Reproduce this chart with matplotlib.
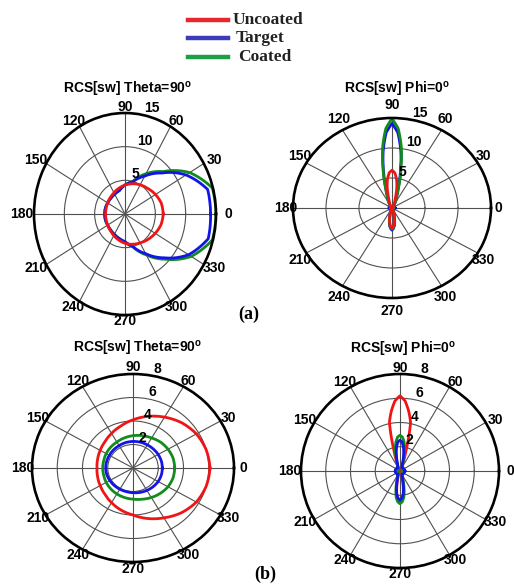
import numpy as np
import matplotlib.pyplot as plt
from matplotlib.lines import Line2D

plt.rcParams['font.family'] = ['Liberation Sans', 'DejaVu Sans']
plt.rcParams['mathtext.fontset'] = 'custom'
plt.rcParams['mathtext.rm'] = 'Liberation Sans'
plt.rcParams['mathtext.bf'] = 'Liberation Sans:bold'

# angles (deg) for the theta=90 cuts
cut_deg = [0, 15, 30, 45, 60, 75, 90, 105, 120, 135, 150, 165, 180,
           195, 210, 225, 240, 255, 270, 285, 300, 315, 330, 345, 360]
# angles (deg) for the phi=0 cuts (denser near the lobes)
lobe_deg = [0, 45, 60, 70, 74, 78, 82, 86, 90, 94, 98, 102, 106, 110, 120, 135, 180,
            225, 240, 250, 254, 258, 262, 266, 270, 274, 278, 282, 286, 290, 300, 315, 360]

# (a) Theta = 90
a_th_red = [6.3, 6.2, 5.8, 5.35, 5.0, 4.65, 4.3, 3.95, 3.65, 3.45, 3.3, 3.22, 3.2,
            3.22, 3.3, 3.45, 3.7, 4.0, 4.35, 4.65, 4.95, 5.35, 5.75, 6.15, 6.3]
a_th_blue = [14.1, 14.1, 11.6, 8.6, 6.5, 4.95, 4.3, 3.6, 3.4, 3.3, 3.3, 3.35, 3.35,
             3.35, 3.3, 3.35, 3.5, 3.75, 4.1, 5.0, 6.8, 9.2, 12.1, 14.2, 14.1]
a_th_green = [15.0, 14.9, 12.3, 8.9, 6.9, 5.0, 4.3, 3.6, 3.4, 3.3, 3.3, 3.35, 3.35,
              3.35, 3.3, 3.35, 3.5, 3.75, 4.1, 5.05, 7.0, 9.5, 12.6, 14.9, 15.0]

# (a) Phi = 0
a_ph_red = [0.1, 0.2, 0.5, 1.2, 2.0, 3.5, 4.9, 5.9, 6.3, 5.9, 4.9, 3.5, 2.0, 1.2, 0.5, 0.2, 0.1,
            0.15, 0.3, 0.6, 1.0, 1.7, 2.5, 3.1, 3.3, 3.1, 2.5, 1.7, 1.0, 0.6, 0.3, 0.15, 0.1]
a_ph_blue = [0.5, 0.3, 0.7, 2.0, 3.4, 6.1, 9.6, 12.6, 14.1, 12.6, 9.6, 6.1, 3.4, 2.0, 0.7, 0.3, 0.5,
             0.3, 0.4, 0.7, 1.1, 1.9, 2.8, 3.4, 3.7, 3.4, 2.8, 1.9, 1.1, 0.7, 0.4, 0.3, 0.5]
a_ph_green = [0.2, 0.3, 0.7, 2.1, 3.6, 6.5, 10.2, 13.3, 14.9, 13.3, 10.2, 6.5, 3.6, 2.1, 0.7, 0.3, 0.2,
              0.3, 0.35, 0.65, 1.0, 1.8, 2.6, 3.3, 3.5, 3.3, 2.6, 1.8, 1.0, 0.65, 0.35, 0.3, 0.2]

# (b) Theta = 90
b_th_red = [6.1, 6.0, 5.8, 5.45, 5.0, 4.55, 4.1, 3.7, 3.4, 3.15, 3.0, 2.9, 2.85,
            2.9, 3.0, 3.15, 3.4, 3.7, 4.0, 4.45, 4.9, 5.4, 5.8, 6.0, 6.1]
b_th_blue = [2.32, 2.32, 2.3, 2.28, 2.27, 2.27, 2.26, 2.24, 2.2, 2.18, 2.16, 2.16, 2.16,
             2.15, 2.12, 2.1, 2.08, 2.08, 2.1, 2.15, 2.2, 2.25, 2.3, 2.32, 2.32]
b_th_green = [3.3, 3.28, 3.2, 3.1, 2.95, 2.85, 2.75, 2.65, 2.55, 2.5, 2.45, 2.4, 2.4,
              2.4, 2.45, 2.5, 2.55, 2.6, 2.65, 2.75, 2.9, 3.05, 3.2, 3.28, 3.3]

# (b) Phi = 0
b_ph_red = [0.1, 0.1, 0.2, 0.6, 1.8, 4.1, 5.0, 5.8, 6.2, 5.8, 5.0, 4.1, 1.8, 0.6, 0.2, 0.1, 0.1,
            0.1, 0.2, 0.4, 0.7, 1.2, 1.9, 2.4, 2.6, 2.4, 1.9, 1.2, 0.7, 0.4, 0.2, 0.1, 0.1]
b_ph_blue = [0.4, 0.35, 0.3, 0.5, 0.9, 1.4, 2.0, 2.4, 2.55, 2.4, 2.0, 1.4, 0.9, 0.5, 0.3, 0.35, 0.4,
             0.35, 0.3, 0.5, 0.85, 1.35, 1.9, 2.25, 2.4, 2.25, 1.9, 1.35, 0.85, 0.5, 0.3, 0.35, 0.4]
b_ph_green = [0.2, 0.2, 0.3, 0.6, 1.1, 1.8, 2.4, 2.8, 2.95, 2.8, 2.4, 1.8, 1.1, 0.6, 0.3, 0.2, 0.2,
              0.2, 0.3, 0.6, 1.0, 1.6, 2.2, 2.55, 2.7, 2.55, 2.2, 1.6, 1.0, 0.6, 0.3, 0.2, 0.2]

angle_labels = ['0', '30', '60', '90', '120', '150', '180', '210', '240', '270', '300', '330']
legend_names = ['Uncoated', 'Target', 'Coated']
legend_colors = ['#e8262e', '#3c3cb4', '#1e9e48']
line_colors = {'red': '#f01414', 'blue': '#1414e6', 'green': '#128c1c'}

W, H = 514, 584
fig = plt.figure(figsize=(W / 100, H / 100), dpi=100)


def panel(cx, cy, rx, ry, ex, ey, rmax, rticks, deg, curves):
    ax = fig.add_axes([(cx - rx) / W, (H - cy - ry) / H, 2 * rx / W, 2 * ry / H],
                      projection='polar')
    ax.set_aspect('auto')
    ax.set_ylim(0, rmax)
    ax.set_xticks(np.deg2rad(np.arange(0, 360, 30)))
    ax.set_xticklabels([])
    ax.set_yticks(rticks)
    ax.set_yticklabels([])
    ax.grid(True, color='#505050', lw=0.8)
    ax.spines['polar'].set_linewidth(1.9)
    ax.spines['polar'].set_color('black')
    t = np.deg2rad(deg)
    for color, vals in curves:
        ln, = ax.plot(t, vals, color=line_colors[color], lw=2.0)
        ln.get_path()._interpolation_steps = 30
    # angle labels just outside the rim
    for i, lab in enumerate(angle_labels):
        a = np.deg2rad(30 * i)
        x = cx + (rx + ex) * np.cos(a)
        y = cy - (ry + ey) * np.sin(a)
        fig.text(x / W, 1 - y / H, lab, ha='center', va='center',
                 fontsize=10, fontweight='bold')
    for rt in list(rticks) + [rmax]:
        ax.text(np.deg2rad(78), rt, str(rt), ha='left', va='bottom',
                fontsize=10, fontweight='bold')
    return ax


panel(125, 214, 91, 101, 12, 6, 15, [5, 10], cut_deg,
      [('green', a_th_green), ('blue', a_th_blue), ('red', a_th_red)])
panel(392, 208, 99, 90, 7, 13, 15, [5, 10], lobe_deg,
      [('blue', a_ph_blue), ('green', a_ph_green), ('red', a_ph_red)])
panel(133, 468, 101, 94, 9, 7, 8, [2, 4, 6], cut_deg,
      [('red', b_th_red), ('green', b_th_green), ('blue', b_th_blue)])
panel(400, 471, 99, 97, 11, 6, 8, [2, 4, 6], lobe_deg,
      [('red', b_ph_red), ('green', b_ph_green), ('blue', b_ph_blue)])

# titles, positioned by their baseline
titles = [(128, 94, r'RCS[sw] Theta=90$^{\mathbf{o}}$'),
          (397, 94, r'RCS[sw] Phi=0$^{\mathbf{o}}$'),
          (138, 353, r'RCS[sw] Theta=90$^{\mathbf{o}}$'),
          (403, 354, r'RCS[sw] Phi=0$^{\mathbf{o}}$')]
for x, y, s in titles:
    fig.text(x / W, 1 - y / H, s, ha='center', va='baseline', fontsize=10, fontweight='bold')

# legend at the top
rows_y = [20, 38, 57]
text_x = [233, 236, 238]
for name, col, y, tx in zip(legend_names, legend_colors, rows_y, text_x):
    fig.add_artist(Line2D([188 / W, 228 / W], [1 - y / H, 1 - y / H], color=col, lw=3.2))
    fig.text(tx / W, 1 - y / H, name, ha='left', va='center', fontsize=12.5,
             fontweight='bold', family='Liberation Serif', color='#222222')

fig.text(249 / W, 1 - 314 / H, '(a)', ha='center', va='center', fontsize=13,
         fontweight='bold', family='Liberation Serif')
fig.text(265 / W, 1 - 574 / H, '(b)', ha='center', va='center', fontsize=13,
         fontweight='bold', family='Liberation Serif')

fig.savefig('out.png', dpi=100, facecolor='white')
